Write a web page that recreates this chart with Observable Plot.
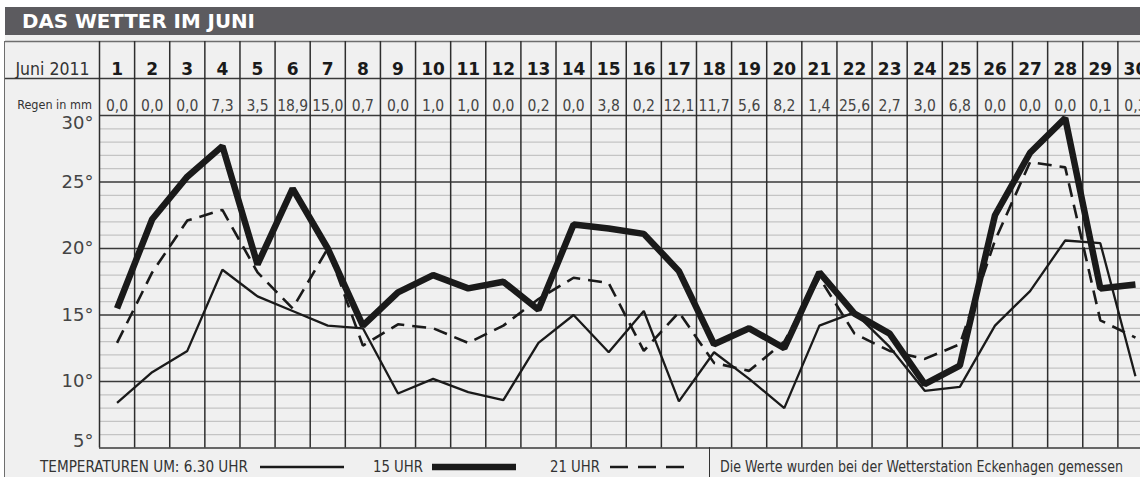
<!DOCTYPE html>
<html>
<head>
<meta charset="utf-8">
<script src="https://cdn.jsdelivr.net/npm/d3@7"></script>
<script src="https://cdn.jsdelivr.net/npm/@observablehq/plot@0.6"></script>
<style>
  html, body { margin: 0; padding: 0; background: #ffffff; }
  #wrap { position: relative; width: 1140px; height: 477px; overflow: hidden; font-family: "DejaVu Sans Condensed", "Liberation Sans Narrow", sans-serif; }
  #bg { position: absolute; left: 5px; top: 35px; right: 0; bottom: 0; background: #f0f0f0; }
  #titlebar { position: absolute; left: 5px; top: 7px; right: 0; height: 28px; background: #5c5b5f; }
  #title { position: absolute; left: 22px; top: 7px; height: 28px; color: #fff; white-space: nowrap;
           font-family: "DejaVu Sans", "Liberation Sans", sans-serif; font-weight: bold; font-size: 20px;
           line-height: 28px; transform-origin: left center; }
  #chart { position: absolute; left: 0; top: 35px; }
  .vline { position: absolute; width: 0; border-left: 1.5px solid #6e6e6e; }
  .leg { position: absolute; top: 457px; font-size: 15.5px; color: #333; line-height: 20px; white-space: nowrap; transform-origin: left center; }
  .sample { position: absolute; top: 463px; }
</style>
</head>
<body>
<div id="wrap">
  <div id="bg"></div>
  <div id="titlebar"></div>
  <div id="title" class="fit" data-w="233">DAS WETTER IM JUNI</div>
  <div id="chart"></div>
  <div class="vline" style="left:4px; top:41px; height:436px;"></div>
  <div class="vline" style="left:709px; top:447px; height:30px; border-left-color:#333;"></div>
  <div class="leg fit" data-w="208" style="left:40px;">TEMPERATUREN UM: 6.30 UHR</div>
  <svg class="sample" style="left:260px" width="84" height="8"><line x1="0" x2="84" y1="4" y2="4" stroke="#1a1a1a" stroke-width="2.7"/></svg>
  <div class="leg fit" data-w="50" style="left:373px;">15 UHR</div>
  <svg class="sample" style="left:432px" width="84" height="8"><line x1="0" x2="84" y1="4" y2="4" stroke="#1a1a1a" stroke-width="6.5"/></svg>
  <div class="leg fit" data-w="50" style="left:550px;">21 UHR</div>
  <svg class="sample" style="left:610px" width="80" height="8"><line x1="0" x2="80" y1="4" y2="4" stroke="#1a1a1a" stroke-width="2.7" stroke-dasharray="18,10"/></svg>
  <div class="leg fit" data-w="403" style="left:720px;">Die Werte wurden bei der Wetterstation Eckenhagen gemessen</div>
</div>
<script>
// ---- data ----
const days = d3.range(1, 31);
const rain = ["0,0","0,0","0,0","7,3","3,5","18,9","15,0","0,7","0,0","1,0",
              "1,0","0,0","0,2","0,0","3,8","0,2","12,1","11,7","5,6","8,2",
              "1,4","25,6","2,7","3,0","6,8","0,0","0,0","0,0","0,1","0,3"];
const t0630 = [8.4,10.7,12.3,18.4,16.4,15.3,14.2,14.0,9.1,10.2,
               9.2,8.6,12.9,15.0,12.2,15.3,8.5,12.2,10.2,8.0,
               14.2,15.2,12.6,9.3,9.6,14.2,16.8,20.6,20.4,10.4];
const t15 = [15.5,22.2,25.4,27.7,18.8,24.5,20.0,14.2,16.7,18.0,
             17.0,17.5,15.4,21.8,21.5,21.1,18.3,12.8,14.0,12.5,
             18.2,15.1,13.6,9.8,11.2,22.5,27.2,29.8,17.0,17.3];
const t21 = [12.9,18.2,22.1,22.9,18.2,15.5,20.0,12.7,14.3,14.0,
             12.9,14.2,16.2,17.8,17.4,12.3,15.2,11.4,10.8,13.0,
             17.8,13.6,12.3,11.7,12.8,20.6,26.5,26.1,14.6,13.3];
const yTicks = [5, 10, 15, 20, 25, 30];
const monthLabel = "Juni 2011";
const rainLabel = "Regen in mm";

// ---- derived table ----
const table = days.map((d, i) => ({day: d, rain: rain[i], t0630: t0630[i], t15: t15[i], t21: t21[i]}));
const bounds = d3.range(0, 31).map(k => k + 0.5);
const minor = d3.range(5, 31).filter(v => v % 5 !== 0);

const txt = "#333";
const sans = "DejaVu Sans, Liberation Sans, sans-serif";
const chart = Plot.plot({
  width: 1140,
  height: 442,
  marginTop: 80,
  marginBottom: 29.5,
  marginLeft: 99,
  marginRight: 0,
  style: {background: "transparent", overflow: "visible"},
  x: {domain: [0.5, 30.5], range: [99, 1152.5], axis: null},
  y: {domain: [5, 30], range: [412.5, 80], axis: null},
  marks: [
    Plot.ruleY(minor, {stroke: "#c4c4c4", strokeWidth: 1.3}),
    Plot.ruleY(yTicks, {stroke: "#3a3a3a", strokeWidth: 1.5}),
    Plot.ruleY([30], {dy: -37, insetLeft: -94, stroke: "#3a3a3a", strokeWidth: 1.5}),
    Plot.ruleY([30], {dy: -74, insetLeft: -94, stroke: "#6e6e6e", strokeWidth: 1.5}),
    Plot.ruleX(bounds, {insetTop: -74, stroke: "#2e2e2e", strokeWidth: 1.5}),
    Plot.text(table, {x: "day", text: d => String(d.day), frameAnchor: "top", dy: -53,
      fontSize: 17, fontWeight: "bold", fill: "#1a1a1a", fontFamily: sans}),
    Plot.text([monthLabel], {text: d => d, frameAnchor: "top-left", dx: -47, dy: -53, textAnchor: "middle",
      fontSize: 17.5, fill: txt}),
    Plot.text(table, {x: "day", text: "rain", frameAnchor: "top", dy: -15.5, fontSize: 15.5, fill: "#444"}),
    Plot.text([rainLabel], {text: d => d, frameAnchor: "top-left", dx: -45, dy: -15.5, textAnchor: "middle",
      fontSize: 12.5, fill: txt}),
    Plot.text(yTicks.filter(v => v > 5 && v < 30), {y: d => d, text: d => d + "°", frameAnchor: "left", dx: -6,
      textAnchor: "end", fontSize: 18, fill: "#444", fontFamily: sans}),
    Plot.text([30], {y: d => d, text: d => d + "°", frameAnchor: "left", dx: -6, dy: 8,
      textAnchor: "end", fontSize: 18, fill: "#444", fontFamily: sans}),
    Plot.text([5], {y: d => d, text: d => d + "°", frameAnchor: "left", dx: -6, dy: -7,
      textAnchor: "end", fontSize: 18, fill: "#444", fontFamily: sans}),
    Plot.line(table, {x: "day", y: "t0630", stroke: "#1a1a1a", strokeWidth: 2.3, strokeLinejoin: "miter", strokeLinecap: "butt"}),
    Plot.line(table, {x: "day", y: "t21", stroke: "#1a1a1a", strokeWidth: 2.6, strokeDasharray: "14,8", strokeLinejoin: "miter", strokeLinecap: "butt"}),
    Plot.line(table, {x: "day", y: "t15", stroke: "#1a1a1a", strokeWidth: 6.5, strokeLinejoin: "miter", strokeLinecap: "butt"})
  ]
});
chart.style.fontFamily = '"DejaVu Sans Condensed", "Liberation Sans Narrow", sans-serif';
document.getElementById("chart").appendChild(chart);

// fit html labels to their widths in the reference
document.querySelectorAll(".fit").forEach(el => {
  const w = el.getBoundingClientRect().width;
  const target = +el.dataset.w;
  if (w > 0) el.style.transform = `scaleX(${target / w})`;
});
</script>
</body>
</html>
